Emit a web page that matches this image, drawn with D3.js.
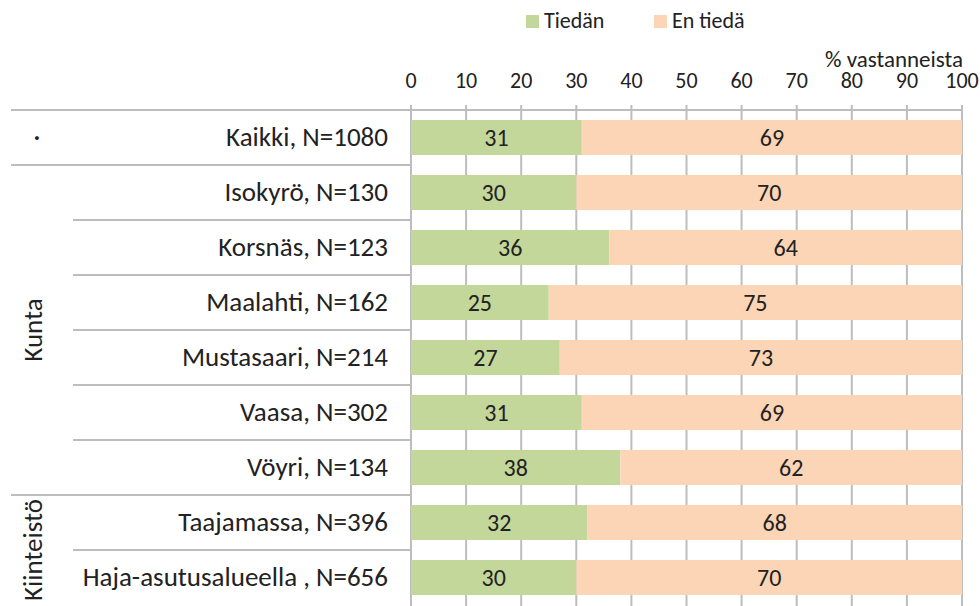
<!DOCTYPE html>
<html>
<head>
<meta charset="utf-8">
<script src="https://cdn.jsdelivr.net/npm/d3@7"></script>
<style>
  body { margin: 0; background: #fff; }
  svg text { font-family: Carlito, "Noto Sans", "Open Sans", sans-serif; fill: #222; }
</style>
</head>
<body>
<div id="chart"></div>
<script>
// chart data
const categories = [
  'Kaikki, N=1080',
  'Isokyrö, N=130',
  'Korsnäs, N=123',
  'Maalahti, N=162',
  'Mustasaari, N=214',
  'Vaasa, N=302',
  'Vöyri, N=134',
  'Taajamassa, N=396',
  'Haja-asutusalueella , N=656',
];
const tiedan = [31, 30, 36, 25, 27, 31, 38, 32, 30];
const enTieda = [69, 70, 64, 75, 73, 69, 62, 68, 70];
const seriesNames = ['Tiedän', 'En tiedä'];
const tickValues = [0, 10, 20, 30, 40, 50, 60, 70, 80, 90, 100];
const groups = [
  { label: '·', first: 0, last: 0, rotate: false },
  { label: 'Kunta', first: 1, last: 6, rotate: true },
  { label: 'Kiinteistö', first: 7, last: 8, rotate: true },
];

const width = 980;
const height = 606;
const margin = { top: 110, right: 18, bottom: 1, left: 411 };
const colors = ['#c4d79b', '#fbd5b5'];
const gridColor = '#bdbdbd';

const svg = d3.select('#chart')
  .append('svg')
  .attr('width', width)
  .attr('height', height);

const x = d3.scaleLinear()
  .domain([0, 100])
  .range([margin.left, width - margin.right]);

const y = d3.scaleBand()
  .domain(categories)
  .range([margin.top, margin.top + categories.length * 55])
  .paddingInner(20 / 55)
  .paddingOuter(10 / 55);

const rows = categories.map((name, i) => ({
  name,
  values: [tiedan[i], enTieda[i]],
}));

// grid lines
svg.append('g')
  .selectAll('line')
  .data(tickValues)
  .enter()
  .append('line')
  .attr('x1', d => x(d))
  .attr('x2', d => x(d))
  .attr('y1', margin.top - 5)
  .attr('y2', height)
  .attr('stroke', gridColor)
  .attr('stroke-width', 2);

// top axis line
svg.append('line')
  .attr('x1', 11)
  .attr('x2', x(100))
  .attr('y1', margin.top)
  .attr('y2', margin.top)
  .attr('stroke', gridColor)
  .attr('stroke-width', 2);

// category separators
const rowStep = y.step();
categories.slice(1).forEach((name, i) => {
  const idx = i + 1;
  const groupStart = groups.some(g => g.first === idx);
  svg.append('line')
    .attr('x1', groupStart ? 11 : 73)
    .attr('x2', x(0))
    .attr('y1', margin.top + idx * rowStep)
    .attr('y2', margin.top + idx * rowStep)
    .attr('stroke', gridColor)
    .attr('stroke-width', 2);
});

// bars
const stack = svg.append('g');
rows.forEach((row) => {
  let start = 0;
  row.values.forEach((v, j) => {
    const x0 = x(start);
    const x1 = x(start + v);
    stack.append('rect')
      .attr('x', x0)
      .attr('y', y(row.name))
      .attr('width', x1 - x0)
      .attr('height', y.bandwidth())
      .attr('fill', colors[j]);
    stack.append('text')
      .attr('x', (x0 + x1) / 2)
      .attr('y', y(row.name) + y.bandwidth() / 2)
      .attr('dy', '0.34em')
      .attr('text-anchor', 'middle')
      .attr('font-size', 24)
      .text(v);
    start += v;
  });
});

// tick labels
svg.append('g')
  .selectAll('text')
  .data(tickValues)
  .enter()
  .append('text')
  .attr('x', d => x(d))
  .attr('y', 88)
  .attr('text-anchor', 'middle')
  .attr('font-size', 22)
  .text(d => d);

svg.append('text')
  .attr('x', x(100) + 1)
  .attr('y', 67)
  .attr('text-anchor', 'end')
  .attr('font-size', 23)
  .text('% vastanneista');

// category labels
svg.append('g')
  .selectAll('text')
  .data(categories)
  .enter()
  .append('text')
  .attr('x', 388)
  .attr('y', d => y(d) + y.bandwidth() / 2)
  .attr('dy', '0.33em')
  .attr('text-anchor', 'end')
  .attr('font-size', 27)
  .text(d => d);

// group labels
groups.forEach((g) => {
  const cy = (y(categories[g.first]) + y(categories[g.last]) + y.bandwidth()) / 2;
  const t = svg.append('text')
    .attr('text-anchor', 'middle')
    .attr('font-size', 27)
    .text(g.label);
  if (g.rotate) {
    t.attr('transform', `translate(42,${cy}) rotate(-90)`);
  } else {
    t.attr('x', 37).attr('y', cy).attr('dy', '0.33em');
  }
});

// legend
const legendX = [526, 654];
const legend = svg.append('g');
seriesNames.forEach((name, i) => {
  legend.append('rect')
    .attr('x', legendX[i])
    .attr('y', 15)
    .attr('width', 13)
    .attr('height', 13)
    .attr('fill', colors[i]);
  legend.append('text')
    .attr('x', legendX[i] + 18)
    .attr('y', 28)
    .attr('font-size', 22)
    .text(name);
});
</script>
</body>
</html>
